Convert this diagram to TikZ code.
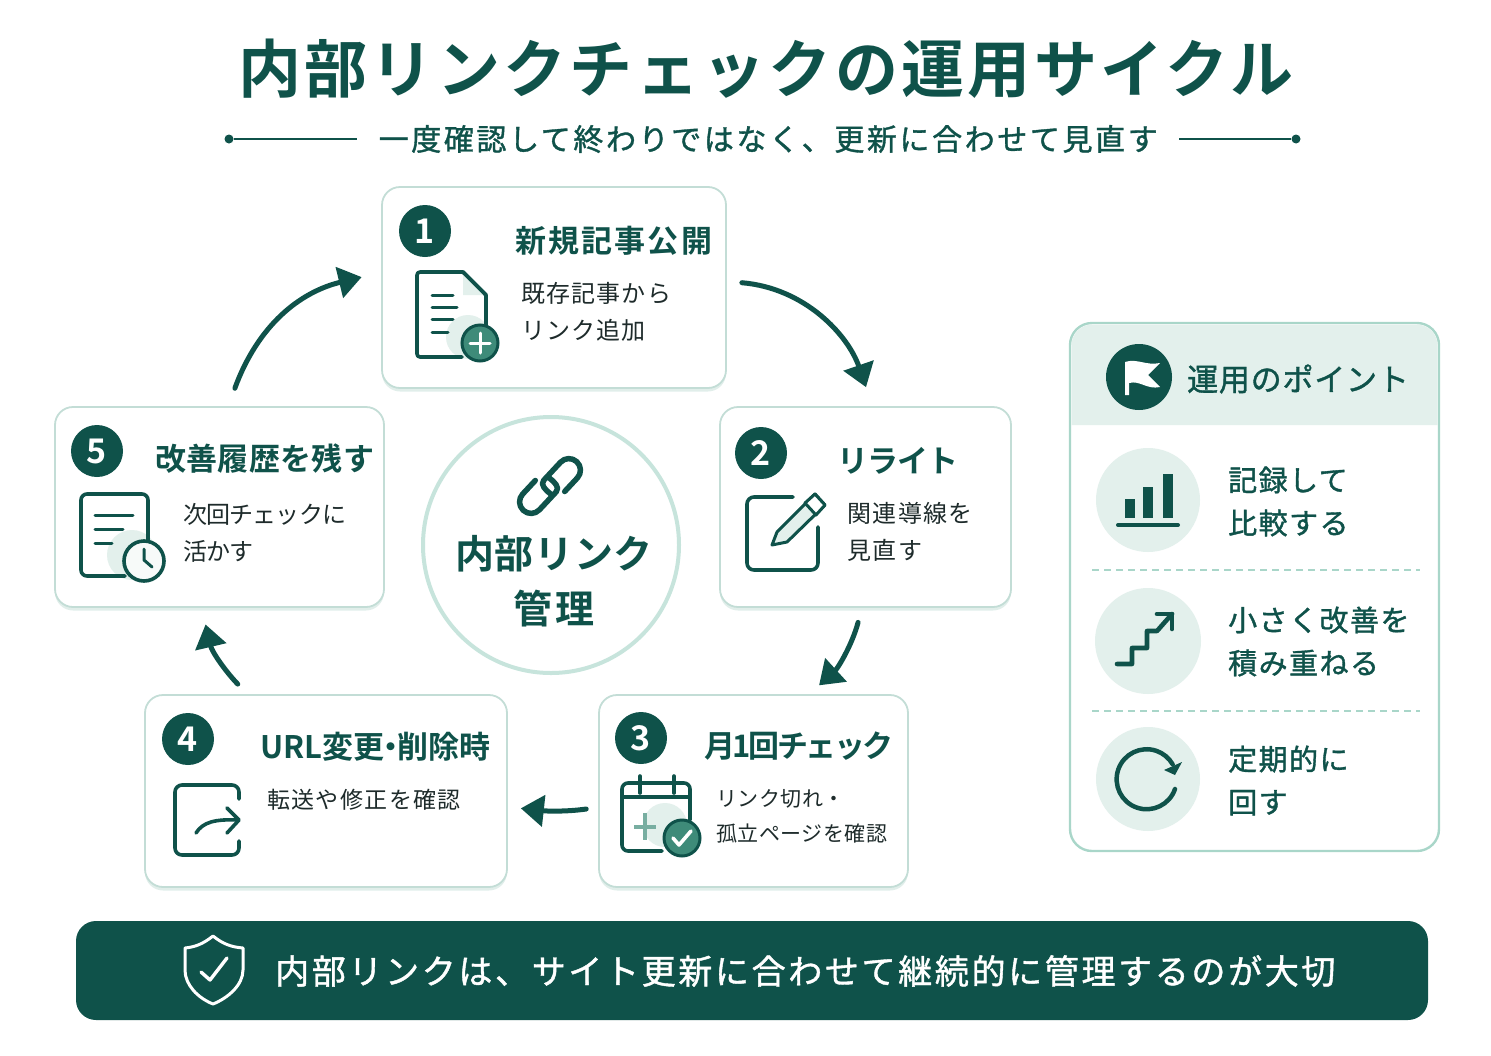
\documentclass[tikz,border=0pt]{standalone}
\usepackage{fontspec}
\usetikzlibrary{arrows.meta, shadows}
\setmainfont{Noto Sans CJK JP}
\newfontfamily\jpb{Noto Sans CJK JP}[BoldFont={Noto Sans CJK JP Bold}]
\newfontfamily\jpm{Noto Sans CJK JP}[FakeBold=1.2]
\newfontfamily\jpr{Noto Sans CJK JP}
\newcommand{\sized}[3]{\fontsize{#1pt}{#2pt}\selectfont\addfontfeature{LetterSpace=#3}}

\definecolor{deep}{HTML}{0F524A}
\definecolor{ink}{HTML}{1E2B2B}
\definecolor{mint}{HTML}{A9D6C9}
\definecolor{edge}{HTML}{C3DDD6}
\definecolor{pale}{HTML}{E3F0EC}
\definecolor{mid}{HTML}{3E8B79}

\tikzset{
  cardbox/.style={draw=edge, fill=white, line width=1.8pt, rounded corners=18pt, inner sep=0pt,
    drop shadow={shadow xshift=0pt, shadow yshift=-3.5pt, opacity=0.5, fill=edge}},
  badge/.style={circle, fill=deep, text=white, minimum size=52pt, inner sep=0pt, font=\jpb\bfseries\sized{34}{34}{0}},
  cardtitle/.style={anchor=west, inner sep=0pt, text=deep, font=\jpb\bfseries\sized{31}{31}{#1}},
  cardsub/.style={anchor=west, inner sep=0pt, text=ink, align=left, font=\jpr\sized{24}{37}{#1}},
  itemtext/.style={anchor=west, inner sep=0pt, text=deep, align=left, font=\jpm\sized{29}{43}{5}},
  itemdisc/.style={circle, fill=pale, minimum size=#1, inner sep=0pt},
  cyc/.style={draw=deep, line width=5pt, line cap=round, -{Stealth[length=23pt, width=31pt, inset=0pt]}},
  icon/.style={draw=deep, line width=3.6pt, line cap=round, line join=round},
  thin/.style={draw=deep, line width=3pt, line cap=round, line join=round},
}

\begin{document}
\begin{tikzpicture}[x=1pt, y=-1pt]
  \useasboundingbox (0, 0) rectangle (1491, 1055);

  \draw (238, 69) node[anchor=west, inner sep=0pt, text=deep, font=\jpb\bfseries\sized{63}{63}{5.3}] (title) {内部リンクチェックの運用サイクル};
  \draw (378.5, 139) node[anchor=west, inner sep=0pt, text=deep, font=\jpm\sized{30}{30}{8.7}] (subtitle) {一度確認して終わりではなく、更新に合わせて見直す};
  \draw (229, 139) node[circle, fill=deep, minimum size=9pt, inner sep=0pt] (dotl) {};
  \draw (1296, 139) node[circle, fill=deep, minimum size=9pt, inner sep=0pt] (dotr) {};
  \coordinate (rulel) at (357, 139);
  \coordinate (ruler) at (1179, 139);
  \draw[deep, line width=2pt] (dotl) -- (rulel);
  \draw[deep, line width=2pt] (dotr) -- (ruler);

  \draw (554, 287.5) node[cardbox, minimum width=344pt, minimum height=201pt] (card1) {};
  \draw (865.5, 507) node[cardbox, minimum width=291pt, minimum height=200pt] (card2) {};
  \draw (753.5, 791) node[cardbox, minimum width=309pt, minimum height=192pt] (card3) {};
  \draw (326, 791)   node[cardbox, minimum width=362pt, minimum height=192pt] (card4) {};
  \draw (219.5, 507) node[cardbox, minimum width=329pt, minimum height=200pt] (card5) {};

  \draw (425, 231) node[badge] (num1) {1};
  \draw (761, 453) node[badge] (num2) {2};
  \draw (641, 738) node[badge] (num3) {3};
  \draw (188, 739) node[badge] (num4) {4};
  \draw (97, 451)  node[badge] (num5) {5};

  \draw (515, 241) node[cardtitle=7] (head1) {新規記事公開};
  \draw (837, 461) node[cardtitle=-3] (head2) {リライト};
  \draw (704, 746) node[cardtitle=-8] (head3) {月1回チェック};
  \draw (260, 747) node[cardtitle=0] (head4) {URL変更\hspace{-9pt}・\hspace{-9pt}削除時};
  \draw (155, 459) node[cardtitle=1] (head5) {改善履歴を残す};

  \draw (521, 312) node[cardsub=5] (sub1) {既存記事から\\リンク追加};
  \draw (847, 532) node[cardsub=6] (sub2) {関連導線を\\見直す};
  \draw (716, 816) node[anchor=west, inner sep=0pt, text=ink, align=left, font=\jpr\sized{21}{35}{2.5}] (sub3) {リンク切れ・\\孤立ページを確認};
  \draw (267, 800) node[anchor=west, inner sep=0pt, text=ink, font=\jpr\sized{23}{23}{6}] (sub4) {転送や修正を確認};
  \draw (183, 533) node[cardsub=-3.5] (sub5) {次回チェックに\\活かす};

  % cycle
  \draw[cyc, shorten <=15pt, shorten >=20pt] (card1.2.5) .. controls (805, 288) and (848, 335) .. (card2.86.5);
  \draw[cyc, shorten <=15pt, shorten >=13pt] (card2.-92.6) .. controls (852, 645) and (838, 668) .. (card3.60.5);
  \draw[cyc, shorten <=12pt, shorten >=13pt] (card3.186.3) .. controls (565, 812) and (545, 811) .. (card4.-5.4);
  \draw[cyc, shorten <=14pt, shorten >=17pt] (card4.129) .. controls (226, 672) and (212, 652) .. (card5.-100);
  \draw[cyc, shorten <=19pt, shorten >=20pt] (card5.85) .. controls (258, 325) and (300, 292) .. (card1.175);

  % centre
  \draw (551, 545) node[circle, draw=mint!65!white, fill=white, line width=4pt, minimum size=256pt, inner sep=0pt] (hub) {};
  \draw (554, 581) node[inner sep=0pt, text=deep, align=center, font=\jpb\bfseries\sized{39}{55}{1.5}] (hubtext) {内部リンク\\\sized{39}{55}{10}管理};
  \foreach \a in {47, 227} {
    \draw[deep, line width=5.5pt, line cap=round, line join=round, shift={(550, 486)}, rotate=\a]
      (6, 14.5) [rounded corners=11.4pt] -- (36, 14.5) -- (36, -8.5) [sharp corners] -- (0, -8.5) .. controls (-6, -8.5) and (-6, 0) .. (-5.4, 6);
  }

  % doc with plus
  \fill[pale] (468, 337) circle[radius=22pt];
  \draw[icon, rounded corners=3pt] (463, 272) -- (417, 272) -- (417, 357) -- (462, 357);
  \draw[icon] (463, 272) -- (486, 295) -- (486, 325);
  \fill[pale] (463, 272) -- (463, 295) -- (486, 295) -- cycle;
  \draw[icon] (463, 272) -- (486, 295);
  \draw[thin] (432, 295) -- (453, 295) (432, 307) -- (457, 307) (432, 319) -- (453, 319) (432, 332) -- (448, 332);
  \draw (480, 343) node[circle, draw=deep, fill=mid, line width=3pt, minimum size=36pt, inner sep=0pt] (plus1) {};
  \draw[white, line width=3pt, line cap=round] (470, 343) -- (490, 343) (480, 333) -- (480, 353);

  % box with pencil
  \draw[icon, rounded corners=7pt] (793, 497) -- (747, 497) -- (747, 570) -- (818, 570) -- (818, 527);
  \draw[icon, line width=3pt, fill=pale] (787, 542) -- (772, 545) -- (777, 532) -- (815, 494) -- (825, 505) -- cycle;
  \draw[thin, fill=white] (805, 503) -- (815, 494) -- (825, 505) -- (816, 515) -- cycle;

  % calendar
  \fill[pale] (665, 825) circle[radius=22pt];
  \draw[icon, rounded corners=6pt] (662, 851) -- (622, 851) -- (622, 783) -- (690, 783) -- (690, 820);
  \draw[icon] (622, 797) -- (690, 797) (640, 776) -- (640, 793) (674, 776) -- (674, 793);
  \draw[mid!70!white, line width=3.6pt] (634, 827) -- (656, 827) (645, 813) -- (645, 840);
  \draw (682, 838) node[circle, draw=deep, fill=mid, line width=3pt, minimum size=36pt, inner sep=0pt] (check3) {};
  \draw[white, line width=3.6pt, line cap=round, line join=round] (673, 838) -- (679, 845) -- (691, 831);

  % box with arrow
  \draw[icon, rounded corners=7pt] (239, 799) -- (239, 785) -- (175, 785) -- (175, 855) -- (239, 855) -- (239, 841);
  \draw[icon] (196, 833) .. controls (203, 822) and (215, 819) .. (238, 820);
  \draw[icon] (227, 808) -- (239, 820) -- (227, 833);

  % doc with clock
  \fill[pale] (132, 555) circle[radius=25pt];
  \draw[icon, rounded corners=6pt] (125, 576) -- (81, 576) -- (81, 494) -- (148, 494) -- (148, 541);
  \draw[thin] (95, 515) -- (133, 515) (95, 529) -- (123, 529) (95, 543) -- (112, 543);
  \draw (144, 561) node[circle, draw=deep, fill=white!70!pale, line width=3.6pt, minimum size=40pt, inner sep=0pt] (clock5) {};
  \draw[thin] (144, 549) -- (144, 560) -- (152, 567);

  % panel
  \draw (1254.5, 587) node[draw=mint, fill=white, line width=2.4pt, rounded corners=22pt, minimum width=369pt, minimum height=528pt, inner sep=0pt] (panel) {};
  \fill[pale] (1071.5, 425) [rounded corners=21pt] -- (1071.5, 324.5) -- (1437.5, 324.5) [sharp corners] -- (1437.5, 425) -- cycle;
  \draw (1139, 377) node[circle, fill=deep, minimum size=66pt, inner sep=0pt] (flagdisc) {};
  \fill[white] (1125, 362) .. controls (1137, 358) and (1146, 366) .. (1160, 363) -- (1148, 375) -- (1160, 387) .. controls (1147, 390) and (1140, 380) .. (1129, 383) -- (1129, 395) -- (1125, 395) -- cycle;
  \draw (1187, 379) node[anchor=west, inner sep=0pt, text=deep, font=\jpm\sized{31}{31}{2.5}] (panelhead) {運用のポイント};

  \draw (1148, 500) node[itemdisc=104pt] (disc1) {};
  \draw (1148, 641) node[itemdisc=106pt] (disc2) {};
  \draw (1148, 779) node[itemdisc=104pt] (disc3) {};
  \draw (1228, 501.5) node[itemtext] (item1) {記録して\\比較する};
  \draw (1228, 641.5) node[itemtext] (item2) {小さく改善を\\積み重ねる};
  \draw (1228, 780.5) node[itemtext] (item3) {定期的に\\回す};
  \draw[mint, line width=1.8pt, dash pattern=on 7pt off 5pt] (1092, 570) -- (1420, 570);
  \draw[mint, line width=1.8pt, dash pattern=on 7pt off 5pt] (1092, 711) -- (1420, 711);

  \fill[deep] (1125, 499) rectangle (1135, 518);
  \fill[deep] (1143, 487) rectangle (1153, 518);
  \fill[deep] (1163, 474) rectangle (1173, 518);
  \draw[icon, line width=4pt] (1118, 525) -- (1178, 525);

  \draw[icon, line width=4.6pt] (1117, 664) -- (1132, 664) -- (1132, 648) -- (1147, 648) -- (1147, 631) -- (1157, 631) -- (1172, 614);
  \draw[icon, line width=4.6pt] (1157, 614) -- (1172, 614) -- (1172, 629);

  \draw[icon, line width=4.5pt] (1175, 789) arc[start angle=-19, end angle=-330, radius=30pt];
  \fill[deep] (1182, 762) -- (1175, 775) -- (1164, 770) -- cycle;

  % banner
  \draw (752, 970.5) node[fill=deep, rounded corners=20pt, minimum width=1352pt, minimum height=99pt, inner sep=0pt] (banner) {};
  \draw[white, line width=3pt, line join=round] (213, 936) .. controls (203, 944) and (195, 947) .. (185, 948) -- (185, 970) .. controls (185, 985) and (198, 998) .. (213, 1004) .. controls (228, 998) and (243, 985) .. (243, 970) -- (243, 948) .. controls (231, 947) and (223, 944) .. (213, 936) -- cycle;
  \draw[white, line width=3.4pt, line cap=round, line join=round] (201, 972) -- (210, 980) -- (227, 958);
  \draw (275, 971) node[anchor=west, inner sep=0pt, text=white, font=\jpm\sized{34}{34}{7.8}] (bannertext) {内部リンクは、サイト更新に合わせて継続的に管理するのが大切};
\end{tikzpicture}
\end{document}
